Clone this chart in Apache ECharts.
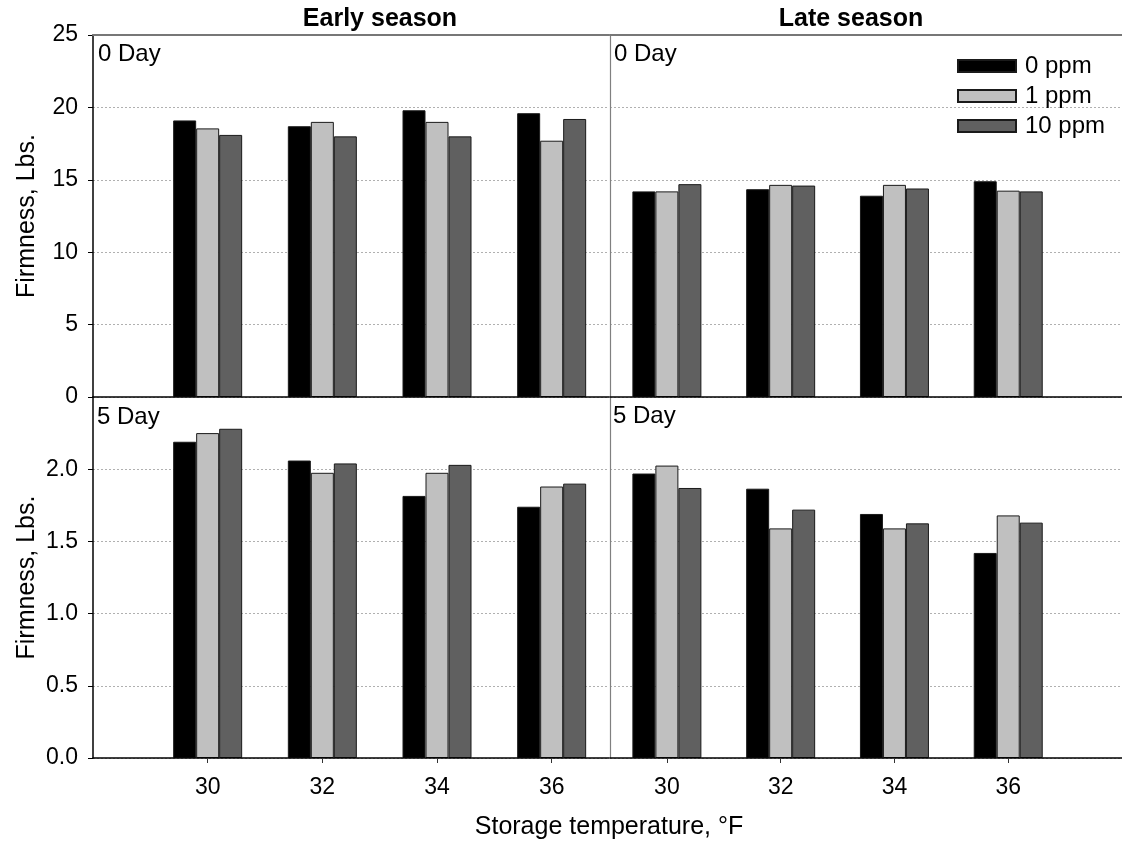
<!DOCTYPE html>
<html>
<head>
<meta charset="utf-8">
<script src="https://cdn.jsdelivr.net/npm/echarts@6/dist/echarts.min.js"></script>
<style>html,body{margin:0;padding:0;background:#fff}#c{width:1122px;height:843px}</style>
</head>
<body>
<div id="c"></div>
<script>
// Categories (storage temperature, °F)
const temps = ['30', '32', '34', '36'];
// Axis positions (one per degree) for each season panel
const earlyAxisCats = ['28', '29', '30', '31', '32', '33', '34', '35', '36', '37'];
const lateAxisCats = ['29', '30', '31', '32', '33', '34', '35', '36', '37', '38'];
const seriesNames = ['0 ppm', '1 ppm', '10 ppm'];
const topTicks = [0, 5, 10, 15, 20, 25];
const bottomTicks = [0, 0.5, 1.0, 1.5, 2.0];

// 0 Day values
const early0_0ppm = [19.1, 18.7, 19.8, 19.6];
const early0_1ppm = [18.55, 19.0, 19.0, 17.7];
const early0_10ppm = [18.1, 18.0, 18.0, 19.2];
const late0_0ppm = [14.2, 14.35, 13.9, 14.9];
const late0_1ppm = [14.2, 14.65, 14.65, 14.25];
const late0_10ppm = [14.7, 14.6, 14.4, 14.2];
// 5 Day values
const early5_0ppm = [2.19, 2.06, 1.815, 1.74];
const early5_1ppm = [2.25, 1.975, 1.975, 1.88];
const early5_10ppm = [2.28, 2.04, 2.03, 1.90];
const late5_0ppm = [1.97, 1.865, 1.69, 1.42];
const late5_1ppm = [2.025, 1.59, 1.59, 1.68];
const late5_10ppm = [1.87, 1.72, 1.625, 1.63];

const colors = ['#000000', '#c0c0c0', '#606060'];
const FONT = '"Liberation Sans", Arial, Helvetica, sans-serif';

function place(axisCats, vals) {
  const out = axisCats.map(() => null);
  temps.forEach((t, i) => { out[axisCats.indexOf(t)] = vals[i]; });
  return out;
}

const panels = [
  { grid: { left: 93, top: 35, width: 516, height: 362 }, cats: earlyAxisCats, data: [early0_0ppm, early0_1ppm, early0_10ppm], top: true, leftSide: true },
  { grid: { left: 610, top: 35, width: 516, height: 362 }, cats: lateAxisCats, data: [late0_0ppm, late0_1ppm, late0_10ppm], top: true, leftSide: false },
  { grid: { left: 93, top: 397, width: 516, height: 361 }, cats: earlyAxisCats, data: [early5_0ppm, early5_1ppm, early5_10ppm], top: false, leftSide: true },
  { grid: { left: 610, top: 397, width: 516, height: 361 }, cats: lateAxisCats, data: [late5_0ppm, late5_1ppm, late5_10ppm], top: false, leftSide: false }
];

const grids = [], xAxes = [], yAxes = [], series = [];
panels.forEach((p, gi) => {
  grids.push(Object.assign({ containLabel: false }, p.grid));
  xAxes.push({
    type: 'category', gridIndex: gi, data: p.cats, boundaryGap: false, position: 'bottom',
    axisLine: { show: true, onZero: false, lineStyle: { color: '#000', width: 1.5 } },
    axisTick: { show: !p.top, length: 5, lineStyle: { color: '#333' }, interval: (i, v) => temps.indexOf(v) >= 0 },
    axisLabel: { show: !p.top, interval: (i, v) => temps.indexOf(v) >= 0, margin: 18, fontSize: 23, color: '#000', fontFamily: FONT },
    splitLine: { show: false }, z: 5
  });
  if (p.top) {
    xAxes.push({
      type: 'category', gridIndex: gi, data: p.cats, boundaryGap: false, position: 'top',
      axisLine: { show: true, onZero: false, lineStyle: { color: '#777', width: 2 } },
      axisTick: { show: false }, axisLabel: { show: false }, splitLine: { show: false }, z: 5
    });
  }
  const ticks = p.top ? topTicks : bottomTicks;
  yAxes.push({
    type: 'value', gridIndex: gi, min: 0, max: p.top ? 25 : 2.5, interval: p.top ? 5 : 0.5,
    axisLine: { show: true, lineStyle: { color: p.leftSide ? '#000' : '#808080', width: p.leftSide ? 1.5 : 1.2 } },
    axisTick: { show: p.leftSide, length: 5, lineStyle: { color: '#000' } },
    axisLabel: {
      show: p.leftSide, margin: 15, fontSize: 23, color: '#000', fontFamily: FONT,
      formatter: v => {
        if (!ticks.some(t => Math.abs(t - v) < 1e-9)) return '';
        return p.top ? String(v) : v.toFixed(1);
      }
    },
    splitLine: { show: true, lineStyle: { color: '#b0b0b0', type: [2, 2], width: 1 } },
    name: p.leftSide ? 'Firmness, Lbs.' : '', nameLocation: 'middle', nameGap: 53, nameRotate: 90,
    nameTextStyle: { fontSize: 25, color: '#000', fontFamily: FONT }
  });
});

// x axis indices: panel0 -> 0 (bottom),1 (top); panel1 -> 2,3; panel2 -> 4; panel3 -> 5
const xIdx = [0, 2, 4, 5];
panels.forEach((p, gi) => {
  p.data.forEach((vals, si) => {
    series.push({
      name: seriesNames[si], type: 'bar', xAxisIndex: xIdx[gi], yAxisIndex: gi,
      data: place(p.cats, vals), barWidth: 23, barGap: '0%',
      itemStyle: { color: colors[si], borderColor: '#1a1a1a', borderWidth: 1 },
      emphasis: { disabled: true }, animation: false
    });
  });
});

const chart = echarts.init(document.getElementById('c'), null, { renderer: 'canvas' });
chart.setOption({
  backgroundColor: '#fff',
  animation: false,
  grid: grids, xAxis: xAxes, yAxis: yAxes, series: series,
  legend: {
    data: seriesNames, orient: 'vertical', left: 952, top: 49,
    itemWidth: 58, itemHeight: 12, itemGap: 6, icon: 'rect',
    textStyle: { fontSize: 24, color: '#000', fontFamily: FONT, padding: [0, 0, 0, 4] },
    selectedMode: false
  },
  graphic: [
    { type: 'text', x: 380, y: 19, style: { text: 'Early season', font: 'bold 25px ' + FONT, fill: '#000', textAlign: 'center', textVerticalAlign: 'middle' } },
    { type: 'text', x: 851, y: 19, style: { text: 'Late season', font: 'bold 25px ' + FONT, fill: '#000', textAlign: 'center', textVerticalAlign: 'middle' } },
    { type: 'text', x: 98, y: 54, style: { text: '0 Day', font: '24px ' + FONT, fill: '#000', textVerticalAlign: 'middle' } },
    { type: 'text', x: 614, y: 54, style: { text: '0 Day', font: '24px ' + FONT, fill: '#000', textVerticalAlign: 'middle' } },
    { type: 'text', x: 97, y: 417, style: { text: '5 Day', font: '24px ' + FONT, fill: '#000', textVerticalAlign: 'middle' } },
    { type: 'text', x: 613, y: 416, style: { text: '5 Day', font: '24px ' + FONT, fill: '#000', textVerticalAlign: 'middle' } },
    { type: 'text', x: 609, y: 827, style: { text: 'Storage temperature, °F', font: '25px ' + FONT, fill: '#000', textAlign: 'center', textVerticalAlign: 'middle' } }
  ]
});
</script>
</body>
</html>
